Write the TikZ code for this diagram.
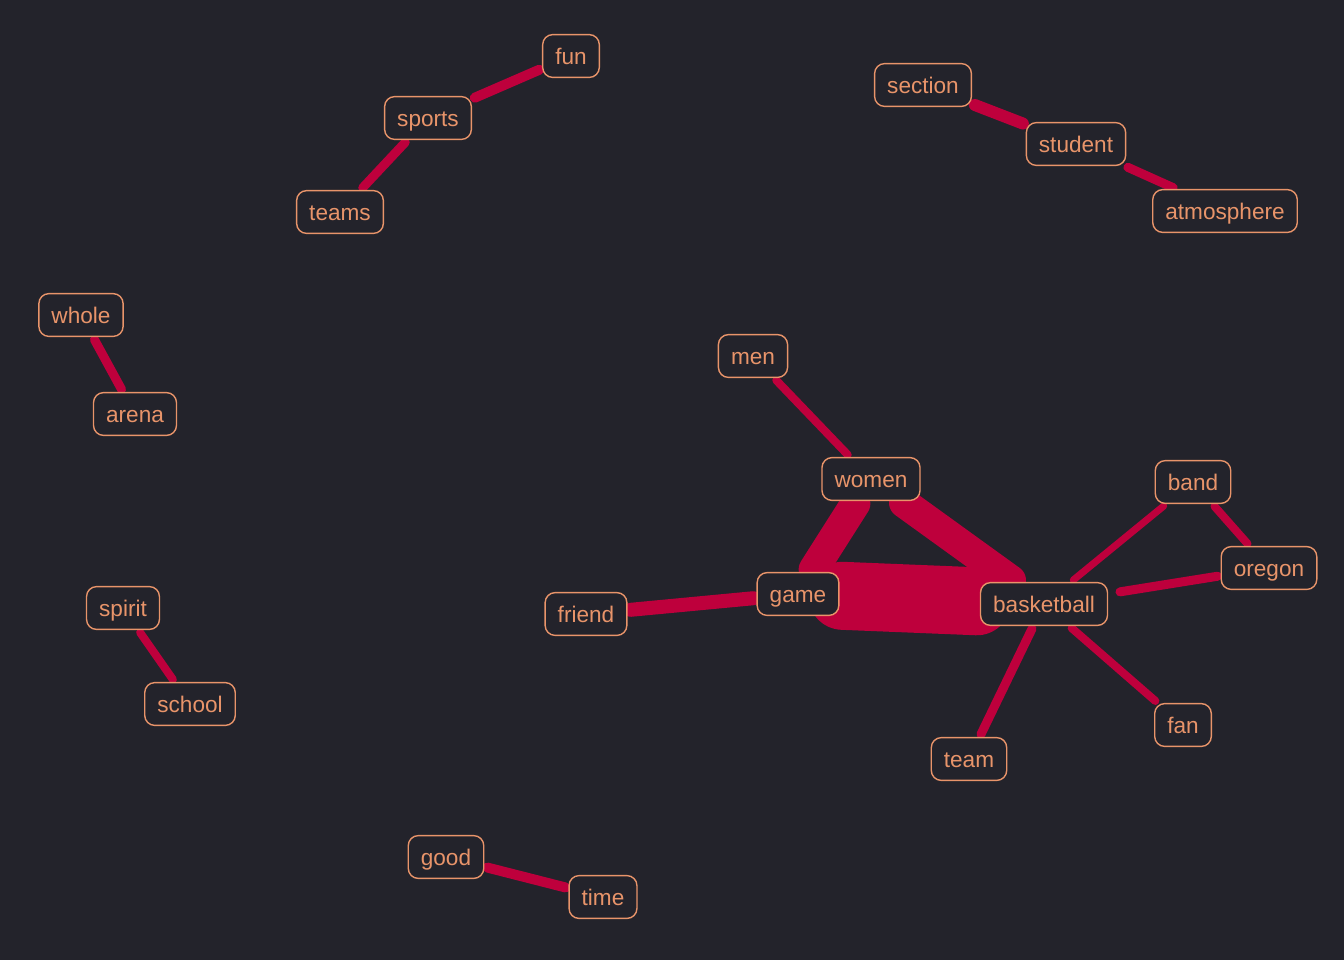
\documentclass[tikz,border=0pt]{standalone}
\usepackage{fontspec}
\setmainfont{Liberation Sans}
\usetikzlibrary{backgrounds}
\definecolor{bg}{HTML}{23232B}
\definecolor{edgecol}{HTML}{BE003C}
\definecolor{wordcol}{HTML}{E8946A}
\begin{document}
\begin{tikzpicture}[x=0.5pt, y=-0.5pt, main/.style = {draw=wordcol, text=wordcol, fill=bg, rounded corners=5pt, line width=0.7pt, font=\fontsize{11.3}{13}\selectfont, inner xsep=6.3pt, text height=9.6pt, text depth=1pt, inner ysep=5.4pt}, link/.style = {edgecol, line cap=round, shorten >=1.5pt, shorten <=1.5pt}]
    \useasboundingbox (0,0) rectangle (1344,960);
    \node[main] (fun) at (571,56) {fun};
    \node[main] (sports) at (428,118) {sports};
    \node[main] (teams) at (340,212) {teams};
    \node[main] (section) at (923,85) {section};
    \node[main] (student) at (1076,144) {student};
    \node[main] (atmosphere) at (1225,211) {atmosphere};
    \node[main] (whole) at (81,315) {whole};
    \node[main] (arena) at (135,414) {arena};
    \node[main] (men) at (753,356) {men};
    \node[main] (women) at (871,479) {women};
    \node[main] (band) at (1193,482) {band};
    \node[main] (oregon) at (1269,568) {oregon};
    \node[main] (friend) at (586,614) {friend};
    \node[main] (game) at (798,594) {game};
    \node[main] (basketball) at (1044,604) {basketball};
    \node[main] (spirit) at (123,608) {spirit};
    \node[main] (school) at (190,704) {school};
    \node[main] (team) at (969,759) {team};
    \node[main] (fan) at (1183,725) {fan};
    \node[main] (good) at (446,857) {good};
    \node[main] (time) at (603,897) {time};
    \begin{pgfonlayer}{background}
    \fill[bg] (0,0) rectangle (1344,960);
    %links
    \draw[link, line width=5pt] (sports) to (fun);
    \draw[link, line width=4.5pt] (sports) to (teams);
    \draw[link, line width=6pt] (section) to (student);
    \draw[link, line width=4.5pt] (student) to (atmosphere);
    \draw[link, line width=4.5pt] (whole) to (arena);
    \draw[link, line width=4pt] (men) to (women);
    \draw[link, line width=15pt] (women) to (game);
    \draw[link, line width=15pt] (women) to (basketball);
    \draw[link, line width=34pt] (game) to (basketball);
    \draw[link, line width=7pt] (friend) to (game);
    \draw[link, line width=3.5pt] (basketball) to (band);
    \draw[link, line width=4pt] (band) to (oregon);
    \draw[link, line width=4.5pt, shorten <=6pt] (basketball) to (oregon);
    \draw[link, line width=4.5pt] (basketball) to (team);
    \draw[link, line width=4pt] (basketball) to (fan);
    \draw[link, line width=4pt] (spirit) to (school);
    \draw[link, line width=5pt] (good) to (time);
    \end{pgfonlayer}
\end{tikzpicture}
\end{document}
